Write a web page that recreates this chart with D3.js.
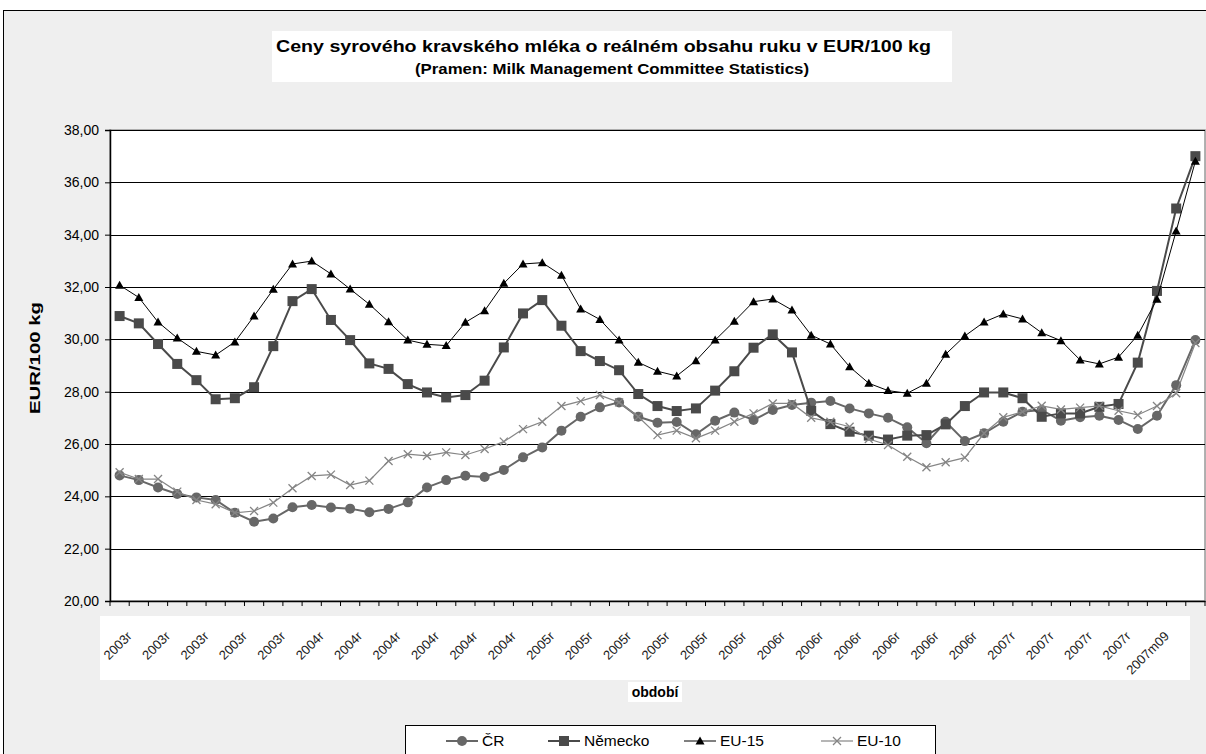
<!DOCTYPE html>
<html><head><meta charset="utf-8">
<script src="https://cdn.jsdelivr.net/npm/d3@7"></script>
<style>html,body{margin:0;padding:0;background:#fff;overflow:hidden}svg{display:block;font-family:"Liberation Sans",Arial,sans-serif}</style>
</head><body>
<svg id="c" width="1206" height="754"></svg>
<script>
// ---- data ----
const periods = [
"2003m01","2003m02","2003m03","2003m04","2003m05","2003m06","2003m07","2003m08","2003m09","2003m10","2003m11","2003m12",
"2004m01","2004m02","2004m03","2004m04","2004m05","2004m06","2004m07","2004m08","2004m09","2004m10","2004m11","2004m12",
"2005m01","2005m02","2005m03","2005m04","2005m05","2005m06","2005m07","2005m08","2005m09","2005m10","2005m11","2005m12",
"2006m01","2006m02","2006m03","2006m04","2006m05","2006m06","2006m07","2006m08","2006m09","2006m10","2006m11","2006m12",
"2007m01","2007m02","2007m03","2007m04","2007m05","2007m06","2007m07","2007m08","2007m09"];
const tickLabels = ["2003r","2003r","2003r","2003r","2003r","2004r","2004r","2004r","2004r","2004r","2004r",
"2005r","2005r","2005r","2005r","2005r","2005r","2006r","2006r","2006r","2006r","2006r","2006r",
"2007r","2007r","2007r","2007r","2007m09"];
const cr = [24.80,24.62,24.34,24.09,23.96,23.86,23.37,23.03,23.15,23.58,23.67,23.57,
23.53,23.39,23.52,23.77,24.34,24.62,24.79,24.74,25.01,25.49,25.87,26.51,
27.04,27.40,27.59,27.04,26.81,26.84,26.37,26.89,27.20,26.92,27.30,27.49,
27.58,27.64,27.36,27.17,27.00,26.64,26.03,26.85,26.11,26.41,26.85,27.23,
27.30,26.89,27.02,27.08,26.92,26.57,27.08,28.25,29.97];
const nemecko = [30.89,30.61,29.82,29.06,28.44,27.71,27.75,28.17,29.74,31.46,31.92,30.74,
29.97,29.08,28.87,28.29,27.97,27.78,27.87,28.42,29.69,30.99,31.50,30.52,
29.55,29.17,28.82,27.91,27.45,27.26,27.36,28.04,28.78,29.68,30.19,29.50,
27.27,26.76,26.47,26.32,26.17,26.32,26.34,26.75,27.45,27.97,27.97,27.75,
27.04,27.17,27.17,27.42,27.53,29.11,31.85,35.00,37.00];
const eu15 = [32.07,31.60,30.66,30.05,29.54,29.40,29.90,30.89,31.91,32.88,32.99,32.50,
31.92,31.34,30.67,29.97,29.81,29.76,30.65,31.09,32.14,32.88,32.93,32.45,
31.16,30.76,29.97,29.12,28.78,28.60,29.18,29.97,30.69,31.44,31.54,31.12,
30.16,29.82,28.95,28.32,28.04,27.94,28.32,29.43,30.13,30.66,30.97,30.78,
30.25,29.95,29.21,29.06,29.32,30.16,31.53,34.14,36.81];
const eu10 = [24.92,24.66,24.66,24.18,23.86,23.70,23.37,23.44,23.76,24.31,24.78,24.83,
24.43,24.60,25.35,25.61,25.55,25.68,25.58,25.81,26.09,26.57,26.85,27.45,
27.64,27.87,27.59,27.04,26.34,26.51,26.22,26.51,26.85,27.17,27.55,27.55,
27.00,26.85,26.66,26.19,25.96,25.51,25.11,25.30,25.48,26.41,27.02,27.23,
27.46,27.32,27.39,27.46,27.27,27.11,27.45,27.94,29.86];
const yTicks = [20,22,24,26,28,30,32,34,36,38];
const seriesNames = ["ČR","Německo","EU-15","EU-10"];

// ---- drawing ----
const svg = d3.select("#c");
const L = 110, R = 1205, T = 130, B = 601;
const x = d3.scaleBand().domain(d3.range(periods.length)).range([L, R]).padding(0);
const cx = i => x(i) + x.bandwidth() / 2;
const y = d3.scaleLinear().domain([20, 38]).range([B, T]);

// chart area
svg.append("rect").attr("x", 3.5).attr("y", 10.5).attr("width", 1220).attr("height", 760)
  .attr("fill", "#efefef").attr("stroke", "#000").attr("stroke-width", 1);

// title box
svg.append("rect").attr("x", 272).attr("y", 31).attr("width", 680).attr("height", 51).attr("fill", "#fff");
svg.append("text").attr("x", 276).attr("y", 52)
  .attr("textLength", 655).attr("lengthAdjust", "spacingAndGlyphs")
  .attr("font-size", 17).attr("font-weight", "bold").text("Ceny syrového kravského mléka o reálném obsahu ruku v EUR/100 kg");
svg.append("text").attr("x", 415).attr("y", 74)
  .attr("textLength", 394).attr("lengthAdjust", "spacingAndGlyphs")
  .attr("font-size", 14).attr("font-weight", "bold").text("(Pramen: Milk Management Committee Statistics)");

// plot area
svg.append("rect").attr("x", L).attr("y", T).attr("width", R - L).attr("height", B - T)
  .attr("fill", "#fff").attr("stroke", "#999").attr("stroke-width", 1.5);

// gridlines
svg.append("g").selectAll("line").data(yTicks.filter(d => d > 20)).join("line")
  .attr("x1", L).attr("x2", R).attr("y1", d => Math.round(y(d)) + 0.5).attr("y2", d => Math.round(y(d)) + 0.5)
  .attr("stroke", "#000").attr("stroke-width", 1);

// y axis
const yAxis = d3.axisLeft(y).tickValues(yTicks).tickSize(5).tickFormat(d => d3.format(".2f")(d).replace(".", ","));
const gy = svg.append("g").attr("transform", `translate(${L},0)`).call(yAxis);
gy.select(".domain").attr("stroke", "#000").attr("stroke-width", 1.5);
gy.selectAll("text").attr("font-size", 14).attr("fill", "#000").attr("font-family", "Liberation Sans, Arial, sans-serif").attr("dx", -3);

// x axis
const xAxis = d3.axisBottom(x).tickValues([]).tickSizeOuter(0);
const gx = svg.append("g").attr("transform", `translate(0,${B})`).call(xAxis);
gx.select(".domain").attr("stroke", "#000").attr("stroke-width", 1.5);
gx.selectAll(".tk").data(d3.range(periods.length + 1)).join("line").attr("class", "tk")
  .attr("x1", i => i < periods.length ? x(i) : R).attr("x2", i => i < periods.length ? x(i) : R)
  .attr("y1", 0).attr("y2", 5).attr("stroke", "#000");

// x labels box
svg.append("rect").attr("x", 100).attr("y", 616).attr("width", 1090).attr("height", 64).attr("fill", "#fff");
svg.append("g").selectAll("text").data(tickLabels).join("text")
  .attr("transform", (d, k) => `translate(${cx(k * 2) + 13},${637}) rotate(-45)`)
  .attr("text-anchor", "end")
  .attr("font-size", 13).attr("fill", "#222").text(d => d);

// axis titles
svg.append("rect").attr("x", 628).attr("y", 682).attr("width", 54).attr("height", 20).attr("fill", "#fff");
svg.append("text").attr("x", 655).attr("y", 697).attr("text-anchor", "middle")
  .attr("font-size", 14).attr("font-weight", "bold").text("období");
svg.append("text").attr("transform", "translate(40,358) rotate(-90)").attr("text-anchor", "middle")
  .attr("textLength", 112).attr("lengthAdjust", "spacingAndGlyphs")
  .attr("font-size", 15).attr("font-weight", "bold").text("EUR/100 kg");

// series
const styles = [
  {data: cr, color: "#676767", width: 2, marker: "circle", mcolor: "#676767"},
  {data: nemecko, color: "#4a4a4a", width: 2, marker: "square", mcolor: "#4a4a4a"},
  {data: eu15, color: "#000", width: 1, marker: "triangle", mcolor: "#000"},
  {data: eu10, color: "#858585", width: 1.2, marker: "x", mcolor: "#858585"}
];
const line = d3.line().x((d, i) => cx(i)).y(d => y(d));
function marker(g, type, color) {
  if (type === "circle") g.append("circle").attr("r", 5).attr("fill", color);
  else if (type === "square") g.append("rect").attr("x", -5).attr("y", -5).attr("width", 10).attr("height", 10).attr("fill", color);
  else if (type === "triangle") g.append("path").attr("d", "M0,-4.5L4.5,3.5L-4.5,3.5Z").attr("fill", color);
  else g.append("path").attr("d", "M-4,-4L4,4M-4,4L4,-4").attr("stroke", color).attr("stroke-width", 1.3);
}
const plot = svg.append("g");
styles.forEach(s => {
  plot.append("path").datum(s.data).attr("d", line).attr("fill", "none")
    .attr("stroke", s.color).attr("stroke-width", s.width);
  s.data.forEach((v, i) => {
    const g = plot.append("g").attr("transform", `translate(${cx(i)},${y(v)})`);
    marker(g, s.marker, s.mcolor);
  });
});

// legend
svg.append("rect").attr("x", 405.5).attr("y", 725.5).attr("width", 530).attr("height", 40)
  .attr("fill", "#fff").attr("stroke", "#000");
const legPos = [446, 548, 684, 821];
styles.forEach((s, k) => {
  const lg = svg.append("g").attr("transform", `translate(${legPos[k]},741)`);
  lg.append("line").attr("x1", 0).attr("x2", 32).attr("stroke", s.color).attr("stroke-width", s.width);
  marker(lg.append("g").attr("transform", "translate(16,0)"), s.marker, s.mcolor);
  lg.append("text").attr("x", 36).attr("dy", "0.35em").attr("font-size", 15.5).text(seriesNames[k]);
});
</script>
</body></html>
